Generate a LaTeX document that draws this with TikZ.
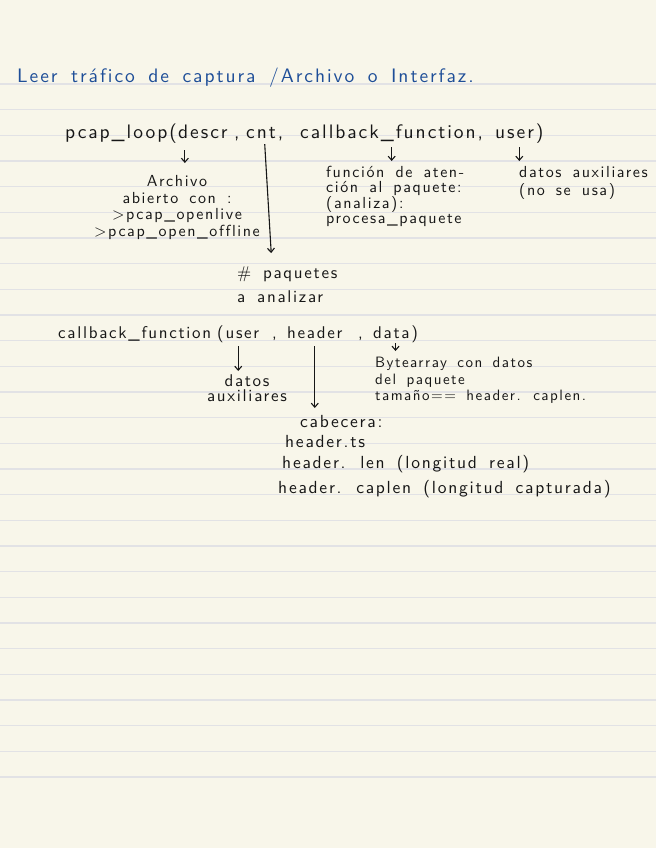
\documentclass[tikz,border=0pt]{standalone}
\usepackage{fontspec}
\setmainfont{lmsans10-regular.otf}[LetterSpace=10, WordSpace=1.6, Ligatures=CommonOff]
\usetikzlibrary{arrows.meta}

\definecolor{paper}{RGB}{248,246,234}
\definecolor{ruling}{RGB}{226,226,229}
\definecolor{ink}{RGB}{22,22,22}
\definecolor{inkblue}{RGB}{30,78,152}

\begin{document}
\begin{tikzpicture}[
    x=1pt, y=-1pt,
    title/.style={anchor=base west, inner sep=0pt, text=inkblue, font=\fontsize{19.5}{22}\selectfont},
    word/.style={anchor=base west, inner sep=0pt, text depth=5pt, text=ink, font=\fontsize{19.5}{22}\selectfont},
    word2/.style={word, font=\fontsize{17}{20}\selectfont},
    note/.style={anchor=north west, inner sep=0pt, align=left, text=ink, font=\fontsize{16}{16.5}\selectfont},
    link/.style={-{Straight Barb[length=4pt,width=7pt]}, line width=1.1pt, draw=ink, shorten <=3pt, shorten >=5pt}
]

% Hoja rayada
\fill[paper] (0,0) rectangle (656,848);
\useasboundingbox (0,0) rectangle (656,848);
\foreach \k in {0,...,27}
    \draw[ruling, line width=1.3pt] (0,{84+25.67*\k}) -- (656,{84+25.67*\k});

% Titulo
\node[title] (title) at (17,83) {Leer tráfico de captura /Archivo o Interfaz.};

% pcap_loop
\node[word] (pcap) at (65,139) {pcap\_loop(};
\node[word] (descr) at (178,139) {descr};
\node[word] (comma1) at (234,139) {,};
\node[word] (cnt) at (246,139) {cnt,};
\node[word] (cb) at (300,139) {callback\_function,};
\node[word] (user) at (495,139) {user)};

\node[note, align=center, anchor=north, font=\fontsize{16}{16.7}\selectfont] (archivo) at (177,175)
    {Archivo\\abierto con :\\>pcap\_openlive\\>pcap\_open\_offline};
\node[note, font=\fontsize{17}{24}\selectfont] (paq) at (237,266) {\# paquetes\\a analizar};
\node[note, font=\fontsize{16}{15.5}\selectfont] (func) at (326,166)
    {función de aten-\\ción al paquete:\\(analiza):\\procesa\_paquete};
\node[note, font=\fontsize{16}{18}\selectfont] (aux) at (519,166) {datos auxiliares\\(no se usa)};

\draw[link, shorten <=6pt, shorten >=12pt] ([xshift=-18pt]descr.south) -- ([xshift=-18pt]descr.south |- archivo.north);
\draw[link, shorten <=0pt, shorten >=13pt] (cnt.south) -- ([xshift=35pt]paq.north west);
\draw[link] (cb.south) -- (cb.south |- func.north);
\draw[link] (user.south) -- (user.south |- aux.north);

% callback_function
\node[word2] (cbf) at (58,338) {callback\_function};
\node[word2] (user2) at (217,338) {(user};
\node[word2] (comma2) at (272,338) {,};
\node[word2] (header) at (287,338) {header};
\node[word2] (comma3) at (358,338) {,};
\node[word2] (data) at (373,338) {data)};

\node[note, align=center, anchor=north, font=\fontsize{17}{15.5}\selectfont] (aux2) at (247,374) {datos\\auxiliares};
\node[note, font=\fontsize{15}{16.5}\selectfont] (bytes) at (375,357)
    {Bytearray con datos\\del paquete\\tamaño== header. caplen.};
\node[note, font=\fontsize{17.5}{20.5}\selectfont] (cab) at (278,415)
    {\hspace*{22pt}cabecera:\\\hspace*{7pt}header.ts\\\hspace*{4pt}header. len (longitud real)\\[5pt]header. caplen (longitud capturada)};

\draw[link, shorten >=3pt] (user2.south) -- (user2.south |- aux2.north);
\draw[link, shorten >=7pt] (header.south) -- (header.south |- cab.north);
\draw[link, shorten <=0pt, shorten >=6pt] (data.south) -- (data.south |- bytes.north);

\end{tikzpicture}
\end{document}
